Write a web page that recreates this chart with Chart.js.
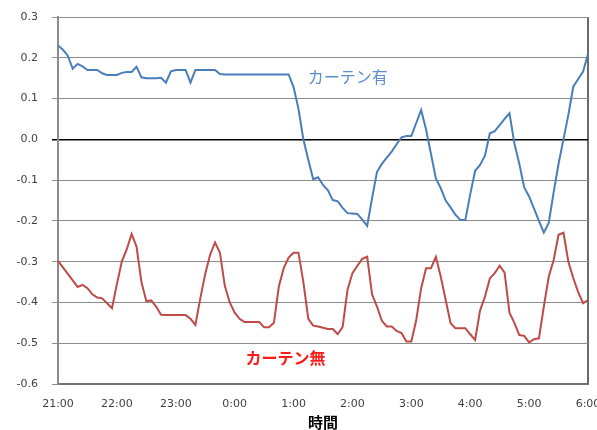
<!DOCTYPE html>
<html>
<head>
<meta charset="utf-8">
<script src="https://cdn.jsdelivr.net/npm/chart.js@4/dist/chart.umd.min.js"></script>
<style>
  html, body { margin: 0; padding: 0; background: #fff; }
  #wrap { width: 597px; height: 430px; position: relative; }
</style>
</head>
<body>
<div id="wrap"><canvas id="c" width="597" height="430"></canvas></div>
<script>
// Hour tick labels shown on the x axis
const tickLabels = ['21:00','22:00','23:00','0:00','1:00','2:00','3:00','4:00','5:00','6:00'];

// 5-minute categories from 21:00 to 6:00
const categories = [];
for (let h = 0; h < 9; h++) {
  const hr = (21 + h) % 24;
  for (let m = 0; m < 60; m += 5) categories.push(hr + ':' + String(m).padStart(2, '0'));
}
categories.push('6:00');

// カーテン有 (with curtain)
const curtainOn = [
  0.23, 0.22, 0.205, 0.173, 0.185, 0.179, 0.17, 0.17, 0.17, 0.162,
  0.158, 0.158, 0.158, 0.163, 0.165, 0.165, 0.178, 0.152, 0.15, 0.15,
  0.15, 0.151, 0.139, 0.167, 0.17, 0.17, 0.17, 0.139, 0.17, 0.17,
  0.17, 0.17, 0.17, 0.16,
  0.159, 0.159, 0.159, 0.159, 0.159, 0.159, 0.159, 0.159, 0.159, 0.159,
  0.159, 0.159, 0.159, 0.159,
  0.128, 0.075, 0.0, -0.05, -0.098, -0.093, -0.112, -0.125, -0.149, -0.152,
  -0.168, -0.181, -0.182, -0.183, -0.197, -0.212, -0.144, -0.08, -0.06, -0.045,
  -0.03, -0.012, 0.005, 0.008, 0.008, 0.04, 0.072, 0.024, -0.036, -0.096,
  -0.12, -0.15, -0.167, -0.185, -0.198, -0.198, -0.135, -0.077, -0.063, -0.04,
  0.015, 0.02, 0.035, 0.05, 0.064, -0.01, -0.06, -0.118, -0.14, -0.17,
  -0.2, -0.229, -0.205, -0.13, -0.06, 0.0, 0.06, 0.129, 0.148, 0.166,
  0.209
];

// カーテン無 (without curtain)
const curtainOff = [
  -0.298, -0.314, -0.33, -0.346, -0.362, -0.357, -0.365, -0.38, -0.388, -0.39,
  -0.402, -0.414, -0.355, -0.3, -0.27, -0.232, -0.263, -0.35, -0.397, -0.395,
  -0.41, -0.43, -0.431, -0.431, -0.431, -0.431, -0.431, -0.44, -0.455, -0.39,
  -0.33, -0.283, -0.253, -0.278, -0.36, -0.4, -0.425, -0.44, -0.448, -0.448,
  -0.448, -0.448, -0.461, -0.461, -0.45, -0.361, -0.316, -0.29, -0.278, -0.278,
  -0.35, -0.44, -0.457, -0.459, -0.462, -0.465, -0.465, -0.478, -0.46, -0.369,
  -0.328, -0.31, -0.293, -0.288, -0.38, -0.41, -0.445, -0.459, -0.459, -0.47,
  -0.475, -0.496, -0.496, -0.443, -0.365, -0.316, -0.316, -0.288, -0.337, -0.394,
  -0.451, -0.463, -0.463, -0.463, -0.478, -0.492, -0.42, -0.386, -0.341, -0.328,
  -0.31, -0.327, -0.425, -0.45, -0.48, -0.482, -0.498, -0.49, -0.488, -0.41,
  -0.337, -0.296, -0.234, -0.229, -0.3, -0.34, -0.375, -0.402, -0.394
];

// Series names (drawn as in-plot labels) and their anchor in data units
const seriesNames = ['カーテン有', 'カーテン無'];
const seriesColors = ['#4a7ebb', '#be4b48'];
const labelColors = ['#5b8dd0', '#ff1a1a'];
const labelAnchorX = [50.9, 38.2];
const labelAnchorY = [0.152, -0.537];
const labelBold = [false, true];

const axisTitle = '時間';

const labelPlugin = {
  id: 'seriesLabels',
  afterDatasetsDraw(chart) {
    const ctx = chart.ctx;
    const xs = chart.scales.x, ys = chart.scales.y;
    ctx.save();
    ctx.textAlign = 'left';
    ctx.textBaseline = 'middle';
    for (let k = 0; k < seriesNames.length; k++) {
      ctx.font = (labelBold[k] ? 'bold ' : '') + '16px "Noto Sans CJK JP"';
      ctx.fillStyle = labelColors[k];
      ctx.fillText(seriesNames[k], xs.getPixelForValue(labelAnchorX[k]), ys.getPixelForValue(labelAnchorY[k]));
    }
    ctx.restore();
  }
};

new Chart(document.getElementById('c'), {
  type: 'line',
  data: {
    labels: categories,
    datasets: [
      { label: seriesNames[0], data: curtainOn, borderColor: seriesColors[0], borderWidth: 2, pointRadius: 0, tension: 0, fill: false },
      { label: seriesNames[1], data: curtainOff, borderColor: seriesColors[1], borderWidth: 2, pointRadius: 0, tension: 0, fill: false }
    ]
  },
  options: {
    responsive: false,
    animation: false,
    layout: { padding: { top: 17, right: 9, bottom: 0, left: 0 } },
    plugins: { legend: { display: false }, tooltip: { enabled: false } },
    scales: {
      x: {
        type: 'category',
        offset: false,
        grid: {
          display: true,
          drawTicks: false,
          drawOnChartArea: true,
          color: (c) => (c.index === categories.length - 1 ? '#6a6a6a' : 'rgba(0,0,0,0)'),
          lineWidth: 2
        },
        border: { display: true, color: '#707070', width: 2 },
        ticks: {
          autoSkip: false,
          maxRotation: 0,
          minRotation: 0,
          padding: 14,
          color: '#404040',
          font: { family: 'DejaVu Sans', size: 11 },
          callback: function (v, i) {
            const lab = categories[i];
            return tickLabels.includes(lab) ? lab : '';
          }
        },
        title: {
          display: true,
          text: axisTitle,
          color: '#000',
          font: { family: 'Noto Sans CJK JP', size: 15, weight: 'bold', lineHeight: 1 },
          padding: { top: 0, bottom: 0 }
        },
        afterFit(scale) { scale.height = 46; scale.paddingLeft = 0; scale.paddingRight = 0; }
      },
      y: {
        min: -0.6,
        max: 0.3,
        ticks: {
          stepSize: 0.1,
          padding: 14,
          color: '#404040',
          font: { family: 'DejaVu Sans', size: 11 },
          callback: (v) => (Math.abs(v) < 1e-9 ? '0.0' : Number(v).toFixed(1))
        },
        grid: {
          color: (c) => (c.tick && Math.abs(c.tick.value) < 1e-9 ? '#000000' : '#8c8c8c'),
          lineWidth: (c) => (c.tick && Math.abs(c.tick.value) < 1e-9 ? 1.5 : 1),
          tickLength: 6,
          drawTicks: true
        },
        border: { display: true, color: '#8c8c8c', width: 2 },
        afterFit(scale) { scale.width = 58; scale.paddingTop = 0; scale.paddingBottom = 0; }
      }
    }
  },
  plugins: [labelPlugin]
});
</script>
</body>
</html>
